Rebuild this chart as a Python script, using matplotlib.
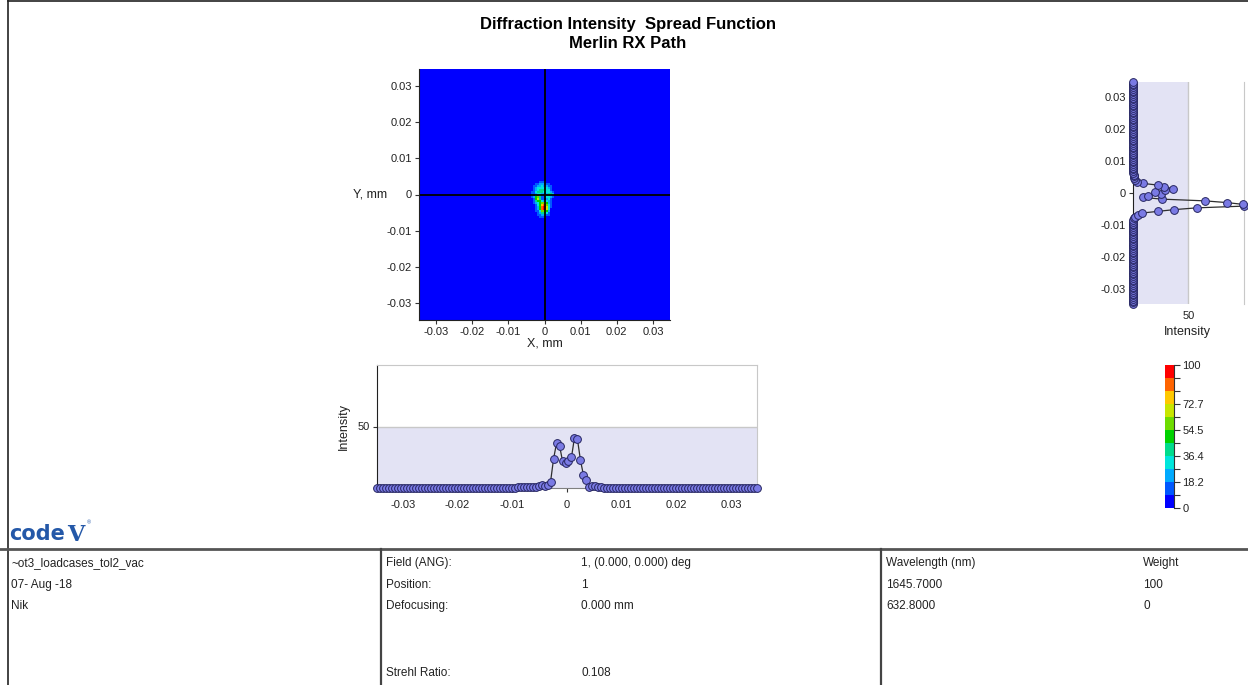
import numpy as np
import matplotlib
matplotlib.use("Agg")
import matplotlib.pyplot as plt
from matplotlib.colors import ListedColormap, BoundaryNorm
from matplotlib.cm import ScalarMappable
from matplotlib.lines import Line2D

W, H = 1248, 685
plt.rcParams["font.family"] = ["Liberation Sans", "DejaVu Sans"]

# ---------------------------------------------------------------- data
title_lines = ["Diffraction Intensity  Spread Function", "Merlin RX Path"]

half_width = 0.0347          # mm, half size of the sampled field
n_samples = 128              # samples per side

axis_ticks = [-0.03, -0.02, -0.01, 0, 0.01, 0.02, 0.03]
axis_tick_labels = ["-0.03", "-0.02", "-0.01", "0", "0.01", "0.02", "0.03"]

# intensity spot (percent of peak); rows listed top -> bottom
spot_top_row = 70
spot_left_col = 57
spot_patch = [
    [0, 0, 4, 8, 10, 12, 12, 10, 8, 4, 0, 0],
    [0, 4, 10, 16, 20, 22, 21, 18, 14, 10, 4, 0],
    [0, 10, 16, 22, 26, 28, 27, 23, 22, 16, 10, 0],
    [4, 12, 22, 28, 32, 34, 32, 28, 28, 22, 12, 4],
    [8, 14, 26, 34, 38, 40, 38, 36, 34, 28, 16, 8],
    [10, 18, 32, 42, 44, 38, 32, 29, 32, 34, 22, 10],
    [10, 16, 26, 36, 35, 22, 20, 21, 25, 41, 39, 22],
    [10, 18, 32, 48, 34, 22, 22, 25, 38, 40, 26, 12],
    [10, 20, 46, 60, 38, 18, 14, 14, 30, 34, 20, 10],
    [8, 18, 50, 66, 44, 16, 10, 9, 22, 28, 16, 6],
    [4, 14, 38, 52, 46, 30, 22, 26, 30, 26, 14, 4],
    [0, 10, 24, 36, 48, 58, 62, 65, 48, 26, 10, 0],
    [0, 8, 18, 30, 52, 76, 84, 85, 62, 30, 10, 0],
    [0, 4, 14, 26, 50, 88, 97, 98, 70, 32, 10, 0],
    [0, 0, 12, 22, 46, 84, 99, 100, 66, 30, 8, 0],
    [0, 0, 10, 18, 36, 56, 60, 57, 46, 22, 6, 0],
    [0, 0, 6, 14, 26, 38, 40, 37, 30, 16, 0, 0],
    [0, 0, 2, 10, 18, 24, 24, 22, 18, 10, 0, 0],
    [0, 0, 0, 6, 10, 12, 12, 10, 8, 4, 0, 0],
]

# X cut through the spot (samples from index 47 upward)
x_cut_start = 47
x_cut_values = [1, 0.5, 0.5, 1, 1, 0.5, 1, 1.5, 2.5, 1.5, 2.5, 5, 23.5, 36.5,
                34.5, 22, 20, 22, 25, 41, 39.5, 22.5, 10.5, 6.5, 1, 1.5, 2,
                1, 0.5]

# Y cut through the spot (samples from index 47 upward)
y_cut_start = 47
y_cut_values = [0.5, 0.5, 1, 2, 5, 8, 22.5, 37.5, 57.5, 100, 99, 85, 65, 26,
                9.5, 14, 25.5, 20, 29, 36.5, 28, 23, 9, 3.6, 2, 1.5, 1, 1,
                0.5, 0.5]

level_colors = ["#0000ff", "#0058ff", "#00aaff", "#00e6dc", "#00dc8c",
                "#00d200", "#6edc00", "#c8e600", "#ffc800", "#ff6400",
                "#ff0000"]
level_max = 100
cbar_labels = ["0", "", "18.2", "", "36.4", "", "54.5", "", "72.7", "", "",
               "100"]

table_left = ["~ot3_loadcases_tol2_vac", "07- Aug -18", "Nik"]
table_mid_keys = ["Field (ANG):", "Position:", "Defocusing:", "Strehl Ratio:"]
table_mid_vals = ["1, (0.000, 0.000) deg", "1", "0.000 mm", "0.108"]
table_wave = ["Wavelength (nm)", "1645.7000", "632.8000"]
table_weight = ["Weight", "100", "0"]

# ---------------------------------------------------------------- figure
fig = plt.figure(figsize=(W / 100, H / 100), dpi=100)
TXT = "#222222"


def px_rect(left, top, right, bottom):
    return [left / W, 1 - bottom / H, (right - left) / W, (bottom - top) / H]


def ftext(x, y, s, **kw):
    kw.setdefault("color", TXT)
    fig.text(x / W, 1 - y / H, s, **kw)


def fline(xs, ys, **kw):
    fig.add_artist(Line2D([x / W for x in xs], [1 - y / H for y in ys], **kw))


for k, line in enumerate(title_lines):
    ftext(628, 25 + 19 * k, line, ha="center", va="center", fontsize=12,
          fontweight="bold", color="black")

n_levels = len(level_colors)
cmap = ListedColormap(level_colors)
bounds = np.linspace(0, level_max, n_levels + 1)
norm = BoundaryNorm(bounds, cmap.N)

grid = np.zeros((n_samples, n_samples))
patch = np.array(spot_patch, dtype=float)[::-1]
r0 = spot_top_row - patch.shape[0] + 1
grid[r0:r0 + patch.shape[0], spot_left_col:spot_left_col + patch.shape[1]] = patch

samples = np.linspace(-half_width, half_width, n_samples)
x_cut = np.zeros(n_samples)
x_cut[x_cut_start:x_cut_start + len(x_cut_values)] = x_cut_values
y_cut = np.zeros(n_samples)
y_cut[y_cut_start:y_cut_start + len(y_cut_values)] = y_cut_values

tick_kw = dict(labelsize=8, length=3, width=0.8, color="#333333",
               labelcolor=TXT, pad=2)

# ---- intensity map
ax = fig.add_axes(px_rect(419, 69, 670, 320))
ax.imshow(grid, cmap=cmap, norm=norm, origin="lower", aspect="auto",
          interpolation="nearest",
          extent=[-half_width, half_width, -half_width, half_width])
ax.axhline(0, color="black", lw=1.3)
ax.axvline(0, color="black", lw=1.3)
ax.set_xlim(-half_width, half_width)
ax.set_ylim(-half_width, half_width)
ax.set_xticks(axis_ticks, axis_tick_labels)
ax.set_yticks(axis_ticks, axis_tick_labels)
ax.tick_params(**tick_kw)
for s in ["top", "right"]:
    ax.spines[s].set_visible(False)
for s in ["left", "bottom"]:
    ax.spines[s].set_color("#222222")
    ax.spines[s].set_linewidth(0.8)
ftext(545, 344, "X, mm", ha="center", va="center", fontsize=9)
ftext(370, 194, "Y, mm", ha="center", va="center", fontsize=9)

marker_kw = dict(marker="o", color="#2e2e2e", lw=0.9, ms=5.6,
                 mfc="#7a7ae4", mec="#262660", mew=0.7, clip_on=False,
                 zorder=3)
BAND = "#e3e3f4"
EDGE = "#c8c8c8"

# ---- X cut
ax2 = fig.add_axes(px_rect(377, 365, 757, 488))
ax2.axhspan(0, 50, color=BAND, zorder=0, lw=0)
ax2.axhline(50, color=EDGE, lw=1, zorder=1)
ax2.plot(samples, x_cut, **marker_kw)
ax2.set_xlim(-half_width, half_width)
ax2.set_ylim(0, 100)
ax2.set_xticks(axis_ticks, axis_tick_labels)
ax2.set_yticks([50], ["50"])
ax2.tick_params(**tick_kw)
ax2.tick_params(axis="x", pad=6)
ax2.spines["left"].set_color("#202020")
ax2.spines["bottom"].set_color("#808080")
for s in ["top", "right"]:
    ax2.spines[s].set_color(EDGE)
ax2.set_ylabel("Intensity", fontsize=9, color=TXT, labelpad=6)

# ---- Y cut
ax3 = fig.add_axes(px_rect(1132.7, 82, 1243.9, 304))
ax3.axvspan(0, 50, color=BAND, zorder=0, lw=0)
ax3.axvline(50, color=EDGE, lw=1, zorder=1)
ax3.plot(y_cut, samples, **marker_kw)
ax3.set_xlim(0, 100)
ax3.set_ylim(-half_width, half_width)
ax3.set_yticks(axis_ticks, axis_tick_labels)
ax3.set_xticks([50], ["50"])
ax3.tick_params(**tick_kw)
ax3.tick_params(axis="x", length=0, pad=5)
ax3.spines["left"].set_color("#202020")
ax3.spines["right"].set_color(EDGE)
for s in ["top", "bottom"]:
    ax3.spines[s].set_visible(False)
ftext(1187, 332, "Intensity", ha="center", va="center", fontsize=9)

# ---- colour scale
cax = fig.add_axes(px_rect(1165, 365, 1174, 508))
cb = fig.colorbar(ScalarMappable(norm=norm, cmap=cmap), cax=cax)
cb.outline.set_visible(False)
cb.set_ticks(bounds, labels=cbar_labels)
cax.tick_params(labelsize=8, length=4, width=0.8, color="#333333",
                labelcolor=TXT, pad=2)
cax.add_line(Line2D([1, 1], [0, 1], transform=cax.transAxes, color="#333333",
                    lw=0.8, clip_on=False))

# ---- logo
ftext(9, 534, "code", ha="left", va="center", fontsize=15,
      fontweight="heavy", family="DejaVu Sans", color="#2458a8")
ftext(67, 535, "V", ha="left", va="center", fontsize=16,
      fontweight="bold", family="DejaVu Serif", color="#2458a8")
ftext(87, 523, "®", ha="left", va="center", fontsize=4, color="#2458a8")

# ---- frame and info table
fline([8, W], [1, 1], color="#222222", lw=1.2)
fline([8, 8], [0, H], color="#222222", lw=1.2)
fline([0, W], [549, 549], color="#555555", lw=2)
fline([381, 381], [549, H], color="#444444", lw=1.6)
fline([881, 881], [549, H], color="#444444", lw=1.6)

row_y = [563, 585, 606, 673]
tkw = dict(ha="left", va="center", fontsize=8.5)
for k, s in enumerate(table_left):
    ftext(11, row_y[k], s, **tkw)
for k, (key, val) in enumerate(zip(table_mid_keys, table_mid_vals)):
    yy = row_y[k]
    ftext(386, yy, key, **tkw)
    ftext(581, yy, val, **tkw)
for k, (wl, wt) in enumerate(zip(table_wave, table_weight)):
    ftext(886, row_y[k], wl, **tkw)
    ftext(1143, row_y[k], wt, **tkw)

fig.savefig("out.png", dpi=100)
